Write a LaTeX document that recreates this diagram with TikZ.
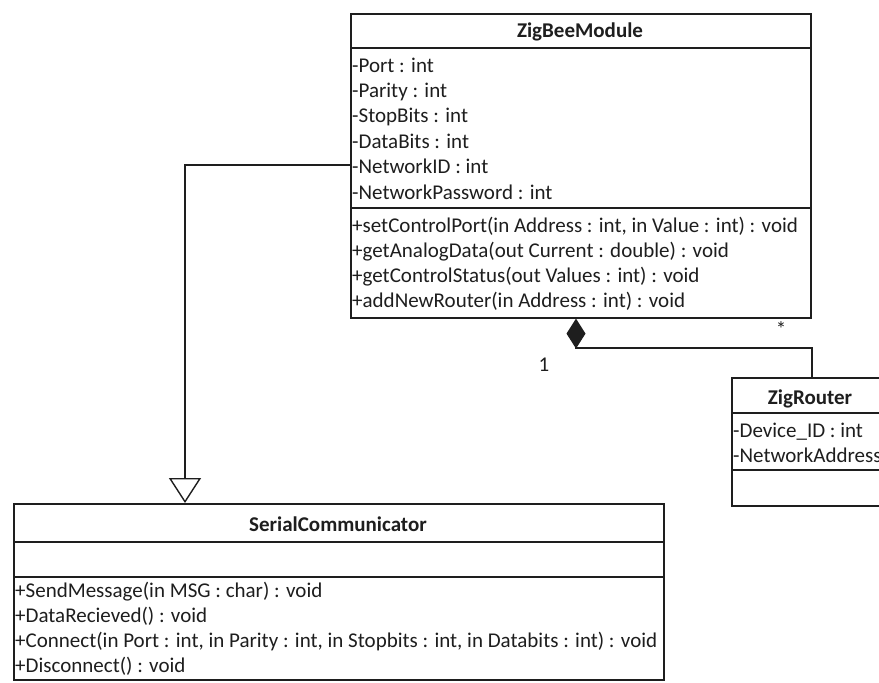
\documentclass[tikz,border=0pt]{standalone}
\usepackage{fontspec}
\setmainfont{Carlito}
\usetikzlibrary{arrows.meta}
\definecolor{ink}{HTML}{1E1E1E}
\begin{document}
\begin{tikzpicture}[x=1pt,y=-1pt,
  classbox/.style={draw=ink, line width=1.6pt, anchor=north west, inner sep=0pt},
  classname/.style={font=\fontsize{21}{25}\selectfont\bfseries, text=ink, anchor=base, inner sep=0pt},
  member/.style={font=\fontsize{21}{25}\selectfont, text=ink, anchor=base west, inner sep=0pt},
  rule/.style={draw=ink, line width=1.6pt},
  mult/.style={font=\fontsize{21}{25}\selectfont, text=ink, anchor=base, inner sep=0pt},
  gen/.style={draw=ink, line width=1.4pt, -{Triangle[open, length=25pt, width=32pt, line width=1.4pt]}},
  comp/.style={draw=ink, line width=1.4pt, -{Diamond[length=30pt, width=19pt]}},
]
\useasboundingbox (0,0) rectangle (879,683);
\clip (0,0) rectangle (879,683);
\fill[white] (0,0) rectangle (879,683);

% ---------- ZigBeeModule ----------
\node[classbox, minimum width=460pt, minimum height=304pt] (zb) at (350,13) {};
\draw[rule] (350,48) -- (810,48);
\draw[rule] (350,208) -- (810,208);
\node[classname] (zbname) at (580,37) {ZigBeeModule};
\node[member] (zbport) at (352,72)    {-Port : int};
\node[member] (zbpar)  at (352,97.4)  {-Parity : int};
\node[member] (zbstop) at (352,122.8) {-StopBits : int};
\node[member] (zbdata) at (352,148.2) {-DataBits : int};
\node[member] (zbnid)  at (352,173.6) {-NetworkID : int};
\node[member] (zbnpw)  at (352,199)   {-NetworkPassword : int};
\node[member] (zbm1) at (352,232) {+setControlPort(in Address : int, in Value : int) : void};
\node[member] (zbm2) at (352,257) {+getAnalogData(out Current : double) : void};
\node[member] (zbm3) at (352,282) {+getControlStatus(out Values : int) : void};
\node[member] (zbm4) at (352,307) {+addNewRouter(in Address : int) : void};

% ---------- ZigRouter ----------
\node[classbox, minimum width=158pt, minimum height=128pt] (zr) at (731,377) {};
\draw[rule] (731,413) -- (889,413);
\draw[rule] (731,470) -- (889,470);
\node[classname] (zrname) at (810,404) {ZigRouter};
\node[member] (zrdev) at (733,437) {-Device\_ID : int};
\node[member] (zrnet) at (733,462) {-NetworkAddress};

% ---------- SerialCommunicator ----------
\node[classbox, minimum width=650pt, minimum height=176pt] (sc) at (13,503) {};
\draw[rule] (13,542) -- (663,542);
\draw[rule] (13,577) -- (663,577);
\node[classname] (scname) at (338,531) {SerialCommunicator};
\node[member] (scm1) at (15,597) {+SendMessage(in MSG : char) : void};
\node[member] (scm2) at (15,622) {+DataRecieved() : void};
\node[member] (scm3) at (15,647) {+Connect(in Port : int, in Parity : int, in Stopbits : int, in Databits : int) : void};
\node[member] (scm4) at (15,672) {+Disconnect() : void};

% ---------- generalization: ZigBeeModule -> SerialCommunicator ----------
\coordinate (gbend) at (185,165);
\draw[gen] (zb.west |- gbend) -- (gbend) -- (gbend |- sc.north);

% ---------- composition: ZigRouter -> ZigBeeModule ----------
\coordinate (cleft) at (576,348);
\coordinate (cright) at (812,348);
\draw[comp] (zr.north -| cright) -- (cright) -- (cleft) -- (cleft |- zb.south);
\node[mult] (mone)  at (544,371) {1};
\node[mult] (mstar) at (781,336) {*};
\end{tikzpicture}
\end{document}
